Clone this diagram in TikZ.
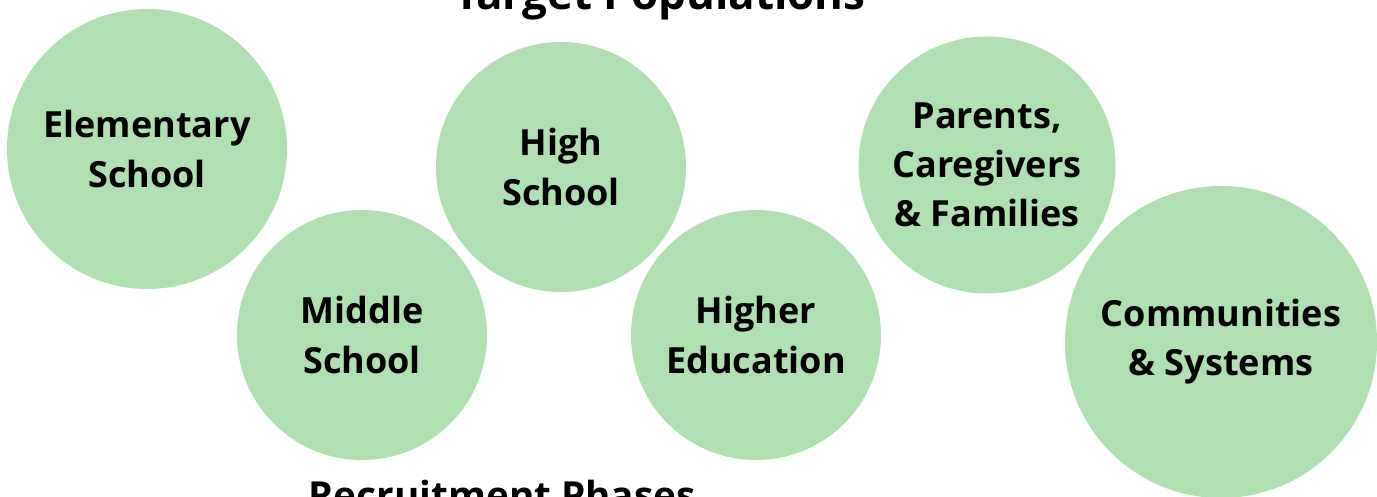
\documentclass[tikz,border=0pt]{standalone}
\usepackage{fontspec}
\setmainfont{Open Sans}
\usetikzlibrary{positioning}
\definecolor{popgreen}{HTML}{B0DFB1}

\begin{document}
\begin{tikzpicture}[
  % Node Styles
  popnode/.style={circle, fill=popgreen, draw=none, inner sep=0pt, align=center, font=\fontsize{20.5}{28}\selectfont\bfseries},
  headline/.style={anchor=base, font=\fontsize{25}{30}\selectfont\bfseries}
]
\useasboundingbox (0,0) rectangle (27.54,9.94);

% Title
\node[headline] (title) at (13.2,9.74) {Target Populations};

% Populations
\node[popnode, minimum size=5.6cm] (elem) at (2.94,6.96) {Elementary\\School};
\node[popnode, minimum size=5.0cm] (middle) at (7.24,3.24) {Middle\\School};
\node[popnode, minimum size=5.0cm] (high) at (11.22,6.60) {High\\School};
\node[popnode, minimum size=5.0cm] (higher) at (15.12,3.24) {Higher\\Education};
\node[popnode, minimum size=5.14cm] (parents) at (19.74,6.64) {Parents,\\Caregivers\\\& Families};
\node[popnode, minimum size=6.24cm] (comm) at (24.42,3.10) {Communities\\\& Systems};

% Next heading
\node[headline, font=\fontsize{22}{28}\selectfont\bfseries] (phases) at (10.04,-0.26) {Recruitment Phases};

\end{tikzpicture}
\end{document}
